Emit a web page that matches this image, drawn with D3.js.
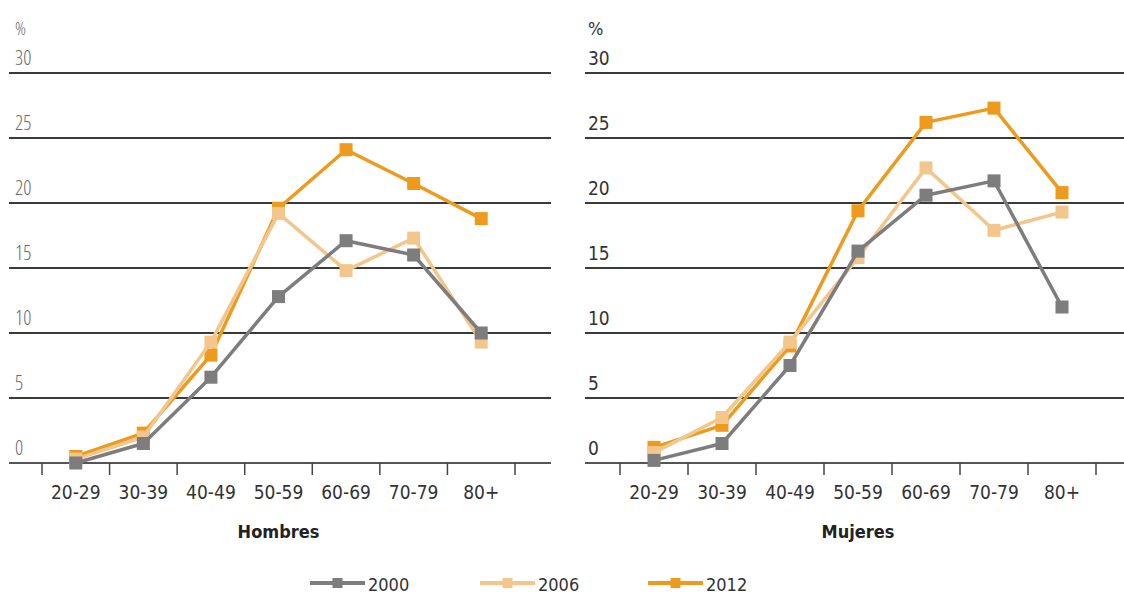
<!DOCTYPE html>
<html>
<head>
<meta charset="utf-8">
<script src="https://cdn.jsdelivr.net/npm/d3@7"></script>
<style>
  html, body { margin: 0; padding: 0; background: #fff; }
  svg { display: block; font-family: "DejaVu Sans Condensed", "DejaVu Sans", sans-serif; font-stretch: condensed; }
</style>
</head>
<body>
<svg id="chart" width="1124" height="597"></svg>
<script>
// Age groups and prevalence (%) by year
const ageGroups = ["20-29", "30-39", "40-49", "50-59", "60-69", "70-79", "80+"];
const years = ["2000", "2006", "2012"];
const yTicks = [0, 5, 10, 15, 20, 25, 30];

const hombres2000 = [0.0, 1.5, 6.6, 12.8, 17.1, 16.0, 10.0];
const hombres2006 = [0.3, 2.0, 9.3, 19.2, 14.8, 17.3, 9.3];
const hombres2012 = [0.5, 2.3, 8.3, 19.6, 24.1, 21.5, 18.8];

const mujeres2000 = [0.2, 1.5, 7.5, 16.3, 20.6, 21.7, 12.0];
const mujeres2006 = [0.8, 3.5, 9.3, 15.8, 22.7, 17.9, 19.3];
const mujeres2012 = [1.2, 2.9, 9.0, 19.4, 26.2, 27.3, 20.8];

const colors = { "2000": "#7d7d7d", "2006": "#f3c78c", "2012": "#ee9a1c" };

const svg = d3.select("#chart");

function drawPanel(opts) {
  const g = svg.append("g");
  const x = d3.scaleBand().domain(ageGroups).range([opts.x0, opts.x1]).paddingInner(0).paddingOuter(0);
  const y = d3.scaleLinear().domain([0, 30]).range([463, 73]);

  // horizontal grid lines
  g.selectAll("line.grid").data(yTicks).join("line")
    .attr("class", "grid")
    .attr("x1", opts.gx0).attr("x2", opts.gx1)
    .attr("y1", d => y(d)).attr("y2", d => y(d))
    .attr("stroke", d => d === 0 ? "#555" : "#3a3a3a")
    .attr("stroke-width", 2.2);

  // y tick labels sitting above each grid line
  g.selectAll("text.ytick").data(yTicks).join("text")
    .attr("class", "ytick")
    .attr("x", opts.labelX).attr("y", d => y(d) - 8)
    .attr("font-family", opts.labelFont)
    .attr("font-size", opts.labelSize)
    .attr("font-weight", opts.labelWeight)
    .attr("fill", opts.labelColor)
    .text(d => d);

  g.append("text")
    .attr("x", opts.labelX).attr("y", 35)
    .attr("font-family", opts.labelFont)
    .attr("font-size", 18)
    .attr("font-weight", opts.labelWeight)
    .attr("fill", opts.labelColor)
    .text("%");

  // x axis with ticks between categories
  const xAxis = d3.axisBottom(x).tickSize(0).tickPadding(0);
  const ax = g.append("g").attr("transform", `translate(0,${y(0)})`).call(xAxis);
  ax.select(".domain").remove();
  ax.selectAll("text")
    .attr("y", 36)
    .attr("dy", 0)
    .attr("font-size", 19)
    .attr("font-family", "'DejaVu Sans Condensed', 'DejaVu Sans', sans-serif")
    .attr("fill", "#333");
  const bounds = ageGroups.map(a => x(a)).concat([x(ageGroups[ageGroups.length - 1]) + x.bandwidth()]);
  g.selectAll("line.xtick").data(bounds).join("line")
    .attr("class", "xtick")
    .attr("x1", d => d).attr("x2", d => d)
    .attr("y1", y(0)).attr("y2", y(0) + 12)
    .attr("stroke", "#444").attr("stroke-width", 1.5);

  // panel title
  g.append("text")
    .attr("x", (opts.x0 + opts.x1) / 2).attr("y", 538)
    .attr("text-anchor", "middle")
    .attr("font-size", 18).attr("font-weight", "bold")
    .attr("fill", "#222")
    .text(opts.title);

  const line = d3.line()
    .x((d, i) => x(ageGroups[i]) + x.bandwidth() / 2)
    .y(d => y(d));

  const order = ["2012", "2006", "2000"];
  order.forEach(yr => {
    const vals = opts.series[yr];
    g.append("path")
      .datum(vals)
      .attr("d", line)
      .attr("fill", "none")
      .attr("stroke", colors[yr])
      .attr("stroke-width", 3.5)
      .attr("stroke-linejoin", "round");
    g.selectAll(null).data(vals).join("rect")
      .attr("x", (d, i) => x(ageGroups[i]) + x.bandwidth() / 2 - 6.5)
      .attr("y", d => y(d) - 6.5)
      .attr("width", 13).attr("height", 13)
      .attr("fill", colors[yr]);
  });
}

drawPanel({
  title: "Hombres",
  x0: 42, x1: 515, gx0: 9, gx1: 551, labelX: 15,
  labelFont: "'Open Sans', sans-serif", labelSize: 20,
  labelWeight: 300, labelColor: "#6a6a6a",
  series: { "2000": hombres2000, "2006": hombres2006, "2012": hombres2012 }
});

drawPanel({
  title: "Mujeres",
  x0: 620, x1: 1096, gx0: 585, gx1: 1124, labelX: 588,
  labelFont: "'DejaVu Sans Condensed', 'DejaVu Sans', sans-serif", labelSize: 19,
  labelWeight: 400, labelColor: "#333",
  series: { "2000": mujeres2000, "2006": mujeres2006, "2012": mujeres2012 }
});

// legend
const legendX = [310, 480, 648];
const lg = svg.append("g");
years.forEach((yr, i) => {
  const lx = legendX[i];
  lg.append("line")
    .attr("x1", lx).attr("x2", lx + 55)
    .attr("y1", 583).attr("y2", 583)
    .attr("stroke", colors[yr]).attr("stroke-width", 4);
  lg.append("rect")
    .attr("x", lx + 27.5 - 5).attr("y", 578)
    .attr("width", 10).attr("height", 10)
    .attr("fill", colors[yr]);
  lg.append("text")
    .attr("x", lx + 58).attr("y", 591)
    .attr("font-size", 18)
    .attr("fill", "#333")
    .text(yr);
});
</script>
</body>
</html>
